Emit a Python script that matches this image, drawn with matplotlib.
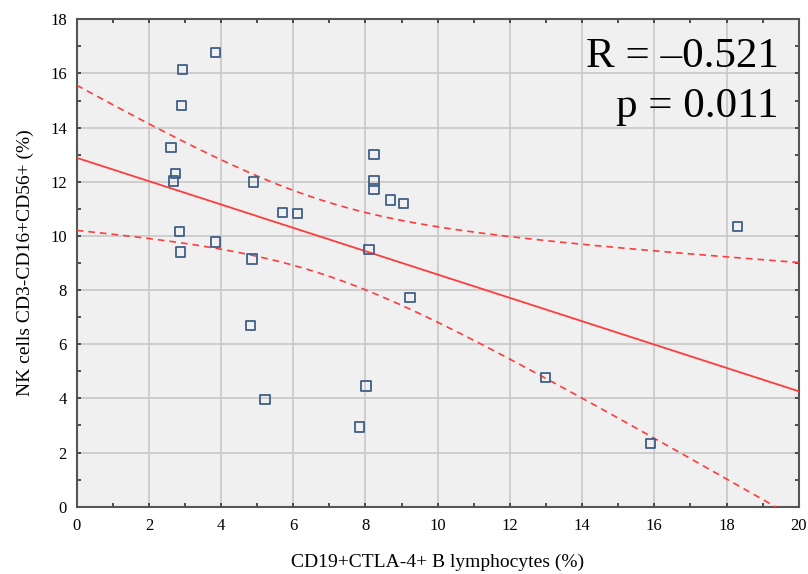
import matplotlib
matplotlib.use("Agg")
import matplotlib.pyplot as plt
import numpy as np
from matplotlib.ticker import MultipleLocator

# CD19+CTLA-4+ B lymphocytes (%) vs NK cells CD3-CD16+CD56+ (%)
b_cells = [3.84, 2.94, 2.91, 2.61, 2.74, 2.69, 4.90, 5.70, 6.11, 2.84, 3.84, 2.88, 4.86, 4.81,
           5.22, 8.24, 8.24, 8.24, 8.69, 9.05, 8.10, 9.23, 8.01, 7.84, 12.98, 15.90, 18.31]
nk_cells = [16.78, 16.15, 14.82, 13.26, 12.30, 12.03, 11.99, 10.87, 10.83, 10.16, 9.77, 9.41, 9.15, 6.70,
            3.95, 13.01, 12.03, 11.73, 11.33, 11.20, 9.51, 7.73, 4.46, 2.94, 4.78, 2.33, 10.34]
r_text = "R = \u20130.521"
p_text = "p = 0.011"

x = np.array(b_cells)
y = np.array(nk_cells)
n = len(x)
slope, intercept = np.polyfit(x, y, 1)
resid = y - (slope * x + intercept)
s = np.sqrt(np.sum(resid ** 2) / (n - 2))
sxx = np.sum((x - x.mean()) ** 2)
t_val = 2.060  # t(0.975, df=25)

xs = np.linspace(0, 20, 200)
fit = slope * xs + intercept
half = t_val * s * np.sqrt(1 / n + (xs - x.mean()) ** 2 / sxx)

plt.rcParams['font.family'] = ['Liberation Serif', 'DejaVu Serif']

fig = plt.figure(figsize=(8.08, 5.74), dpi=100)
ax = fig.add_axes([0.0949, 0.1172, 0.8936, 0.8492])
ax.set_facecolor('#f0f0f0')

ax.plot(xs, fit, color='#ff3c3c', lw=1.3, zorder=3)
ax.plot(xs, fit + half, color='#ff3c3c', lw=1.2, ls=(0, (4, 3)), zorder=3)
ax.plot(xs, fit - half, color='#ff3c3c', lw=1.2, ls=(0, (4, 3)), zorder=3)
ax.scatter(x, y, s=45, marker='s', facecolors='none', edgecolors='#3f5f86', linewidths=1.3, zorder=4)

ax.set_xlim(0, 20)
ax.set_ylim(0, 18)
ax.xaxis.set_major_locator(MultipleLocator(2))
ax.xaxis.set_minor_locator(MultipleLocator(1))
ax.yaxis.set_major_locator(MultipleLocator(2))
ax.yaxis.set_minor_locator(MultipleLocator(1))
ax.grid(True, which='major', color='#c8c8c8', lw=1.2)
ax.set_axisbelow(True)
ax.tick_params(which='both', direction='in', top=True, right=True, color='#333333',
               length=3, width=1.2, labelsize=12)
ax.tick_params(which='major', pad=8)
ax.tick_params(axis='y', which='major', pad=7)
for sp in ax.spines.values():
    sp.set_color('#555555')
    sp.set_linewidth(1.5)

ax.set_xlabel('CD19+CTLA-4+ B lymphocytes (%)', fontsize=14, labelpad=14)
ax.set_ylabel('NK cells CD3-CD16+CD56+ (%)', fontsize=14, labelpad=12)

# stats
ax.text(0.9727, 0.902, r_text, transform=ax.transAxes, ha='right', va='baseline', fontsize=31)
ax.text(0.9727, 0.7995, p_text, transform=ax.transAxes, ha='right', va='baseline', fontsize=31)

fig.savefig('out.png', dpi=100)
